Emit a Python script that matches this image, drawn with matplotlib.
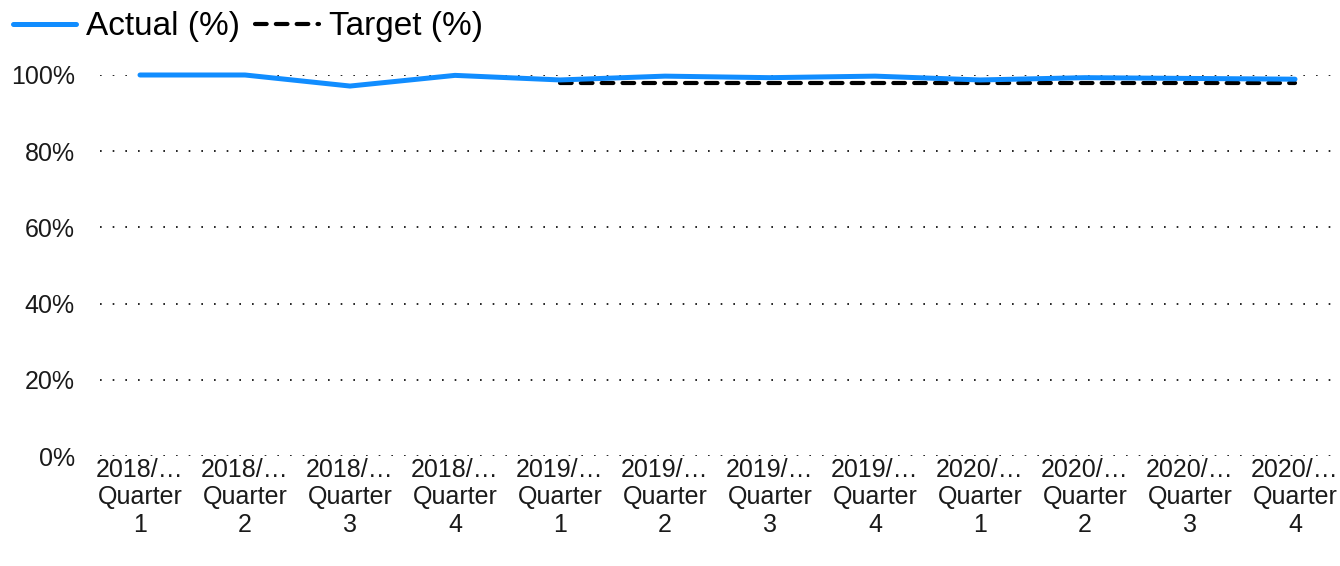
"""Actual vs target (%) by quarter, 2018-2020."""
import numpy as np
import matplotlib
matplotlib.use("Agg")
import matplotlib.pyplot as plt  # noqa: E402

plt.rcParams["font.family"] = ["Liberation Sans", "DejaVu Sans"]

QUARTERS = ["2018/…\nQuarter\n1", "2018/…\nQuarter\n2", "2018/…\nQuarter\n3", "2018/…\nQuarter\n4",
            "2019/…\nQuarter\n1", "2019/…\nQuarter\n2", "2019/…\nQuarter\n3", "2019/…\nQuarter\n4",
            "2020/…\nQuarter\n1", "2020/…\nQuarter\n2", "2020/…\nQuarter\n3", "2020/…\nQuarter\n4"]
ACTUAL = [100.0, 100.0, 97.1, 99.9, 98.7, 99.7, 99.3, 99.7, 98.7, 99.3, 99.1, 98.9]
TARGET = [None, None, None, None, 98.0, 98.0, 98.0, 98.0, 98.0, 98.0, 98.0, 98.0]
YTICKS = [0, 20, 40, 60, 80, 100]

BLUE = "#118DFF"


def main():
    x = np.arange(len(QUARTERS))
    tgt = np.array([np.nan if v is None else v for v in TARGET])

    fig = plt.figure(figsize=(13.4, 5.66), dpi=100)
    ax = fig.add_axes([100 / 1340, 1 - 456 / 566, 1235 / 1340, 381 / 566])

    for t in YTICKS:
        ax.axhline(t, color="black", lw=1.2, ls=(0, (1, 6.6)), dash_capstyle="butt", zorder=0)

    ax.plot(x, ACTUAL, color=BLUE, lw=3.6, solid_capstyle="round", solid_joinstyle="round",
            clip_on=False, zorder=3, label="Actual (%)")
    ax.plot(x, tgt, color="black", lw=3.0, ls=(0, (2.8, 2.2)), dash_capstyle="round",
            clip_on=False, zorder=2, label="Target (%)")

    ax.set_xlim(-0.381, 11.381)
    ax.set_ylim(0, 100)
    ax.set_yticks(YTICKS)
    ax.set_yticklabels([f"{t}%" for t in YTICKS])
    ax.set_xticks(x)
    ax.set_xticklabels(QUARTERS, linespacing=1.17)
    ax.tick_params(axis="both", length=0, labelsize=18, colors="#1a1a1a")
    ax.tick_params(axis="y", pad=18)
    ax.tick_params(axis="x", pad=1.5)
    for s in ax.spines.values():
        s.set_visible(False)

    fig.legend(loc="center left", bbox_to_anchor=(13 / 1340, 1 - 27 / 566), frameon=False,
               ncol=2, fontsize=24, handlelength=1.9, handletextpad=0.3, columnspacing=0.45,
               borderpad=0, borderaxespad=0)

    fig.savefig("out.png", dpi=100)
    plt.close(fig)


if __name__ == "__main__":
    main()
